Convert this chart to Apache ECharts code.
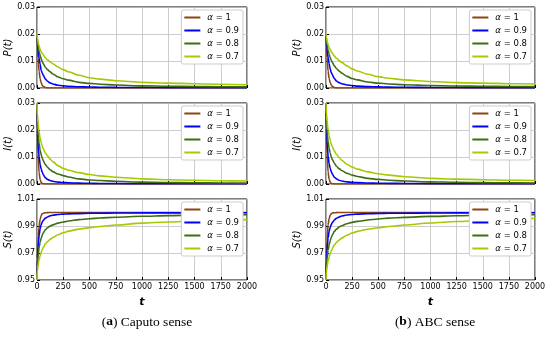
<!DOCTYPE html>
<html><head><meta charset="utf-8">
<script src="https://cdn.jsdelivr.net/npm/echarts@6/dist/echarts.min.js"></script>
<style>html,body{margin:0;padding:0;background:#fff}#c{width:550px;height:337px}</style>
</head><body><div id="c"></div>
<script>
var tVals = [0, 5, 10, 20, 30, 40, 50, 60, 80, 100, 125, 150, 200, 250, 300, 400, 500, 600, 750, 1000, 1250, 1500, 1750, 2000];
var seriesNames = ['α = 1', 'α = 0.9', 'α = 0.8', 'α = 0.7'];
var xTicks = [0, 250, 500, 750, 1000, 1250, 1500, 1750, 2000];
var captions = ['(a) Caputo sense', '(b) ABC sense'];
var yNames = ['P(t)', 'I(t)', 'S(t)'];

// Caputo sense
var capP1  = [0.02, 0.0149, 0.0111, 0.0061, 0.0034, 0.0019, 0.0010, 0.0006, 0.0002, 0.00005, 0, 0, 0, 0, 0, 0, 0, 0, 0, 0, 0, 0, 0, 0];
var capP09 = [0.02, 0.0165, 0.0142, 0.0110, 0.0088, 0.0065, 0.0055, 0.0047, 0.0033, 0.0025, 0.0019, 0.0015, 0.0010, 0.0008, 0.00065, 0.00048, 0.00038, 0.0003, 0.00024, 0.00018, 0.00014, 0.00012, 0.0001, 0.00009];
var capP08 = [0.02, 0.0172, 0.0157, 0.0135, 0.0120, 0.0108, 0.0098, 0.0090, 0.0077, 0.0068, 0.0060, 0.0052, 0.0041, 0.0034, 0.0029, 0.0021, 0.0017, 0.0014, 0.0011, 0.0008, 0.00065, 0.00055, 0.00048, 0.00042];
var capP07 = [0.02, 0.0182, 0.0170, 0.0155, 0.0143, 0.0135, 0.0128, 0.0123, 0.0112, 0.0104, 0.0097, 0.0090, 0.0078, 0.0068, 0.0060, 0.0047, 0.0038, 0.0033, 0.0027, 0.0021, 0.0018, 0.0016, 0.0014, 0.0012];
var capI1  = [0.03, 0.0184, 0.0113, 0.0042, 0.0016, 0.0006, 0.0002, 0.0001, 0, 0, 0, 0, 0, 0, 0, 0, 0, 0, 0, 0, 0, 0, 0, 0];
var capI09 = [0.03, 0.0200, 0.0155, 0.0100, 0.0072, 0.0055, 0.0043, 0.0034, 0.0023, 0.0017, 0.0013, 0.0010, 0.0007, 0.00055, 0.00045, 0.00033, 0.00026, 0.00021, 0.00017, 0.00013, 0.0001, 0.00009, 0.00008, 0.00007];
var capI08 = [0.03, 0.0225, 0.0190, 0.0150, 0.0125, 0.0108, 0.0095, 0.0086, 0.0072, 0.0062, 0.0053, 0.0046, 0.0037, 0.0031, 0.0026, 0.0019, 0.0015, 0.0013, 0.0010, 0.0007, 0.00055, 0.00045, 0.00038, 0.00032];
var capI07 = [0.03, 0.0250, 0.0225, 0.0192, 0.0170, 0.0153, 0.0140, 0.0130, 0.0115, 0.0104, 0.0092, 0.0083, 0.0068, 0.0058, 0.0051, 0.0042, 0.0035, 0.0030, 0.0025, 0.0019, 0.0016, 0.0014, 0.0012, 0.0011];
var capS1  = [0.95, 0.967, 0.978, 0.990, 0.995, 0.9978, 0.999, 0.9995, 0.9998, 0.9999, 1.0, 1.0, 1.0, 1.0, 1.0, 1.0, 1.0, 1.0, 1.0, 1.0, 1.0, 1.0, 1.0, 1.0];
var capS09 = [0.95, 0.966, 0.974, 0.983, 0.988, 0.991, 0.993, 0.9943, 0.9958, 0.9967, 0.9975, 0.998, 0.9985, 0.9988, 0.999, 0.9992, 0.9994, 0.9995, 0.9996, 0.9997, 0.9997, 0.9998, 0.9998, 0.9998];
var capS08 = [0.95, 0.962, 0.967, 0.974, 0.978, 0.981, 0.9833, 0.985, 0.9872, 0.9887, 0.9899, 0.9908, 0.9921, 0.993, 0.9937, 0.9947, 0.9954, 0.9959, 0.9965, 0.9972, 0.9977, 0.998, 0.9982, 0.9984];
var capS07 = [0.95, 0.958, 0.961, 0.965, 0.968, 0.9705, 0.9725, 0.9742, 0.9768, 0.9785, 0.9801, 0.9815, 0.9835, 0.985, 0.9862, 0.9877, 0.9888, 0.9896, 0.9907, 0.9921, 0.993, 0.9936, 0.9942, 0.9947];

// ABC sense
var abcP1  = [0.02, 0.0150, 0.0112, 0.0062, 0.0035, 0.0020, 0.0011, 0.0006, 0.0002, 0.00005, 0, 0, 0, 0, 0, 0, 0, 0, 0, 0, 0, 0, 0, 0];
var abcP09 = [0.02, 0.0168, 0.0146, 0.0114, 0.0091, 0.0070, 0.0058, 0.0049, 0.0035, 0.0026, 0.0020, 0.0016, 0.0011, 0.0009, 0.0007, 0.0005, 0.0004, 0.00032, 0.00026, 0.0002, 0.00016, 0.00013, 0.00011, 0.0001];
var abcP08 = [0.02, 0.0176, 0.0161, 0.0140, 0.0125, 0.0113, 0.0103, 0.0095, 0.0082, 0.0072, 0.0063, 0.0055, 0.0043, 0.0035, 0.0030, 0.0022, 0.0018, 0.0015, 0.0012, 0.0009, 0.00075, 0.00063, 0.00055, 0.0005];
var abcP07 = [0.02, 0.0185, 0.0175, 0.0161, 0.0150, 0.0142, 0.0135, 0.0129, 0.0118, 0.0110, 0.0102, 0.0095, 0.0082, 0.0071, 0.0063, 0.0051, 0.0042, 0.0036, 0.0030, 0.0024, 0.0020, 0.0018, 0.0016, 0.0015];
var abcI1  = [0.03, 0.0186, 0.0115, 0.0044, 0.0017, 0.0007, 0.0003, 0.0001, 0, 0, 0, 0, 0, 0, 0, 0, 0, 0, 0, 0, 0, 0, 0, 0];
var abcI09 = [0.03, 0.0205, 0.0160, 0.0105, 0.0076, 0.0058, 0.0046, 0.0037, 0.0025, 0.0019, 0.0014, 0.0011, 0.0008, 0.0006, 0.0005, 0.00037, 0.0003, 0.00024, 0.00019, 0.00015, 0.00012, 0.0001, 0.00009, 0.00008];
var abcI08 = [0.03, 0.0230, 0.0196, 0.0157, 0.0132, 0.0115, 0.0101, 0.0091, 0.0077, 0.0066, 0.0057, 0.0050, 0.0040, 0.0033, 0.0028, 0.0021, 0.0017, 0.0014, 0.0011, 0.0008, 0.00063, 0.00052, 0.00044, 0.00038];
var abcI07 = [0.03, 0.0255, 0.0232, 0.0200, 0.0178, 0.0161, 0.0148, 0.0138, 0.0122, 0.0110, 0.0098, 0.0088, 0.0073, 0.0063, 0.0055, 0.0045, 0.0038, 0.0033, 0.0027, 0.0021, 0.0018, 0.0016, 0.0014, 0.0013];
var abcS1  = [0.95, 0.968, 0.979, 0.991, 0.9955, 0.998, 0.9991, 0.9996, 0.9998, 0.9999, 1.0, 1.0, 1.0, 1.0, 1.0, 1.0, 1.0, 1.0, 1.0, 1.0, 1.0, 1.0, 1.0, 1.0];
var abcS09 = [0.95, 0.965, 0.972, 0.981, 0.986, 0.989, 0.991, 0.9925, 0.9945, 0.9957, 0.9967, 0.9974, 0.9981, 0.9985, 0.9988, 0.9991, 0.9993, 0.9994, 0.9995, 0.9996, 0.9997, 0.9997, 0.9998, 0.9998];
var abcS08 = [0.95, 0.961, 0.966, 0.972, 0.976, 0.979, 0.9815, 0.9833, 0.986, 0.9877, 0.9892, 0.9902, 0.9917, 0.9927, 0.9934, 0.9945, 0.9952, 0.9958, 0.9964, 0.9971, 0.9976, 0.9979, 0.9981, 0.9983];
var abcS07 = [0.95, 0.957, 0.960, 0.964, 0.967, 0.9695, 0.9715, 0.9732, 0.976, 0.9778, 0.9796, 0.981, 0.9832, 0.9848, 0.986, 0.9876, 0.9887, 0.9896, 0.9907, 0.9922, 0.9933, 0.9942, 0.995, 0.9957];

var colors = ['#8b4513', '#0000ff', '#3a6e12', '#a8c800'];

var panels = [
  [capP1, capP09, capP08, capP07], [capI1, capI09, capI08, capI07], [capS1, capS09, capS08, capS07],
  [abcP1, abcP09, abcP08, abcP07], [abcI1, abcI09, abcI08, abcI07], [abcS1, abcS09, abcS08, abcS07]
];

var colLeft = [37, 326], colWidth = [210, 209];
var rowTop = [7, 103, 199], rowH = 81;
var yRanges = [[0, 0.03, 0.01], [0, 0.03, 0.01], [0.95, 1.01, 0.02]];

var grids = [], xAxes = [], yAxes = [], series = [], legends = [];
var fontF = 'DejaVu Sans';
for (var c = 0; c < 2; c++) {
  for (var r = 0; r < 3; r++) {
    var gi = c * 3 + r;
    grids.push({left: colLeft[c], top: rowTop[r], width: colWidth[c], height: rowH,
      show: true, borderColor: '#000', borderWidth: 1, backgroundColor: 'transparent'});
    xAxes.push({type: 'value', gridIndex: gi, min: 0, max: 2000, interval: 250,
      axisLine: {show: false}, axisTick: {show: true, inside: true, length: 3, lineStyle: {color: '#000'}},
      axisLabel: {show: r === 2, fontFamily: fontF, fontSize: 8, color: '#000', margin: 3,
        formatter: function (v) { return String(v); }},
      splitLine: {show: true, lineStyle: {color: '#c0c0c0', width: 0.8}},
      name: r === 2 ? 't' : '', nameLocation: 'middle', nameGap: 17,
      nameTextStyle: {fontFamily: fontF, fontSize: 11, fontStyle: 'italic', fontWeight: 'bold', color: '#000'}});
    var yr = yRanges[r];
    yAxes.push({type: 'value', gridIndex: gi, min: yr[0], max: yr[1], interval: yr[2],
      axisLine: {show: false}, axisTick: {show: true, inside: true, length: 3, lineStyle: {color: '#000'}},
      axisLabel: {fontFamily: fontF, fontSize: 8, color: '#000', margin: 2,
        formatter: function (v) { return v.toFixed(2); }},
      splitLine: {show: true, lineStyle: {color: '#c0c0c0', width: 0.8}},
      name: yNames[r], nameLocation: 'middle', nameGap: 20, nameRotate: 90,
      nameTextStyle: {fontFamily: fontF, fontSize: 10, fontStyle: 'italic', color: '#000'}});
    for (var k = 0; k < 4; k++) {
      var vals = panels[gi][k];
      series.push({type: 'line', name: seriesNames[k], xAxisIndex: gi, yAxisIndex: gi,
        symbol: 'none', smooth: 0.3, smoothMonotone: 'x', clip: true, color: colors[k],
        lineStyle: {width: 1.6, color: colors[k]},
        data: tVals.map(function (t, i) { return [t, vals[i]]; })});
    }
    legends.push({data: seriesNames, orient: 'vertical',
      right: 550 - (colLeft[c] + colWidth[c]) + 4, top: rowTop[r] + 3,
      icon: 'rect', itemWidth: 16, itemHeight: 2, itemGap: 4, padding: [3, 4, 3, 3],
      backgroundColor: '#fff', borderColor: '#cccccc', borderWidth: 1, borderRadius: 2,
      selectedMode: false,
      formatter: function (name) { return '{i|α}' + name.slice(1); },
      textStyle: {fontFamily: fontF, fontSize: 8.5, lineHeight: 9, color: '#000', padding: [0, 0, 0, 2],
        rich: {i: {fontFamily: fontF, fontSize: 8.5, fontStyle: 'italic', color: '#000'}}}});
  }
}

var titles = [
  {text: '({b|a}) Caputo sense', left: 142, top: 310, textAlign: 'center'},
  {text: '({b|b}) ABC sense', left: 430, top: 310, textAlign: 'center'}
].map(function (t) {
  t.textStyle = {fontFamily: 'Liberation Serif', fontSize: 13.5, fontWeight: 'normal', color: '#000',
    rich: {b: {fontFamily: 'Liberation Serif', fontSize: 13.5, fontWeight: 'bold', color: '#000'}}};
  return t;
});

var chart = echarts.init(document.getElementById('c'), null, {renderer: 'canvas'});
chart.setOption({
  animation: false,
  backgroundColor: '#fff',
  title: titles,
  grid: grids, xAxis: xAxes, yAxis: yAxes, legend: legends, series: series
});
</script></body></html>
